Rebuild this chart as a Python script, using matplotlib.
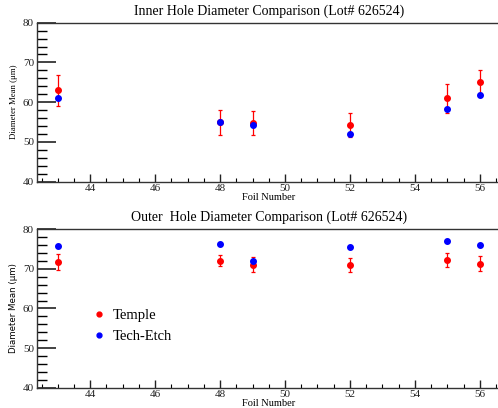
import numpy as np
import matplotlib
matplotlib.use('Agg')
import matplotlib.pyplot as plt
from matplotlib.ticker import MultipleLocator
from matplotlib.lines import Line2D

# ── data ──────────────────────────────────────────────────────────────────────
foils = [43, 48, 49, 52, 55, 56]

inner_temple     = [63.0, 54.9, 54.8, 54.25, 60.95, 65.2]
inner_temple_err = [3.9, 3.1, 3.0, 2.95, 3.75, 2.8]
inner_tech       = [61.0, 54.9, 54.2, 52.0, 58.4, 61.9]

outer_temple     = [71.7, 72.1, 71.1, 71.0, 72.2, 71.3]
outer_temple_err = [1.95, 1.35, 1.95, 1.7, 1.75, 1.9]
outer_tech       = [75.8, 76.4, 71.9, 75.5, 77.0, 76.1]

titles = ["Inner Hole Diameter Comparison (Lot# 626524)",
          "Outer  Hole Diameter Comparison (Lot# 626524)"]

SERIF = "Liberation Serif"
RED, BLUE = "#ff0000", "#0000ff"
MS = 4

fig = plt.figure(figsize=(4.98, 4.08), dpi=100)
ax_top = fig.add_axes([0.0737, 0.5547, 0.932, 0.3897])
ax_bot = fig.add_axes([0.0737, 0.0498, 0.932, 0.3882])

# top panel's y label is serif, bottom one is sans in the original
panels = [
    (ax_top, inner_temple, inner_temple_err, inner_tech, titles[0], SERIF, 6.3),
    (ax_bot, outer_temple, outer_temple_err, outer_tech, titles[1], "DejaVu Sans", 6.2),
]

for ax, temple, terr, tech, title, yfam, ysize in panels:
    ax.errorbar(foils, temple, yerr=terr, fmt="o", color=RED, ms=MS,
                elinewidth=0.9, capsize=1.5, capthick=0.9, zorder=3)
    ax.plot(foils, tech, "o", color=BLUE, ms=MS, zorder=4)

    ax.set_xlim(42.35, 56.65)
    ax.set_ylim(40, 80)
    ax.xaxis.set_major_locator(MultipleLocator(2))
    ax.xaxis.set_minor_locator(MultipleLocator(0.5))
    ax.yaxis.set_major_locator(MultipleLocator(10))
    ax.yaxis.set_minor_locator(MultipleLocator(2))
    ax.tick_params(axis="y", which="major", direction="in", length=14, width=1.2)
    ax.tick_params(axis="y", which="minor", direction="in", length=7.5, width=1.0)
    ax.tick_params(axis="x", which="major", direction="in", length=6, width=1.0)
    ax.tick_params(axis="x", which="minor", direction="in", length=3, width=0.8)
    ax.tick_params(axis="both", which="major", labelsize=8, pad=2, colors="#222222")
    for lab in ax.get_xticklabels() + ax.get_yticklabels():
        lab.set_fontfamily(SERIF)
    for s in ax.spines.values():
        s.set_color("#333333")
        s.set_linewidth(1.0)

    ax.set_ylabel("Diameter Mean (\u03bcm)", fontsize=ysize, family=yfam, labelpad=3.5)
    ax.set_xlabel("Foil Number", fontsize=7.5, family=SERIF, labelpad=0)
    ax.set_title(title, fontsize=10, family=SERIF, pad=6)

handles = [Line2D([], [], ls="none", marker="o", color=RED, ms=3.5),
           Line2D([], [], ls="none", marker="o", color=BLUE, ms=3.5)]
ax_bot.legend(handles, ["Temple", "Tech-Etch"], loc="center left",
              bbox_to_anchor=(0.09, 0.39), frameon=False,
              prop={"family": SERIF, "size": 10.5}, handletextpad=0.45,
              labelspacing=0.5, handlelength=1.0)

fig.savefig("out.png", dpi=100)
